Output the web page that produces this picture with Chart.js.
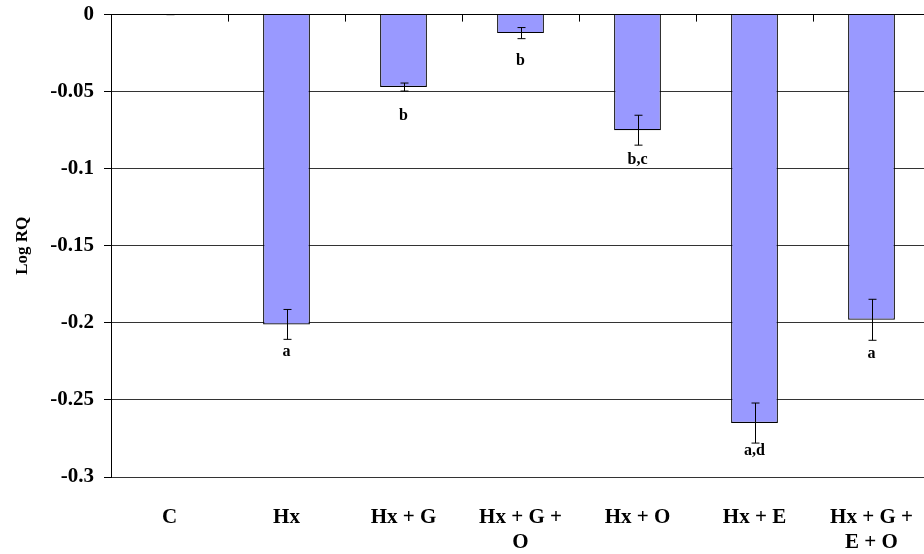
<!DOCTYPE html>
<html>
<head>
<meta charset="utf-8">
<script src="https://cdn.jsdelivr.net/npm/chart.js@4"></script>
<style>
  html, body { margin: 0; padding: 0; background: #fff; overflow: hidden; }
  #wrap { width: 940px; height: 562px; margin-top: -8px; }
</style>
</head>
<body>
<div id="wrap"><canvas id="chart"></canvas></div>
<script>
// ── Data ─────────────────────────────────────────────────────
const groups    = ['C', 'Hx', 'Hx + G', ['Hx + G +', 'O'], 'Hx + O', 'Hx + E', ['Hx + G +', 'E + O']];
const logRQ     = [0, -0.201, -0.047, -0.012, -0.075, -0.265, -0.198];
const errSE     = [0, 0.0097, 0.0026, 0.0036, 0.0097, 0.013, 0.0133];
const sigLetter = ['', 'a', 'b', 'b', 'b,c', 'a,d', 'a'];
const sigAt     = [0, -0.219, -0.0655, -0.030, -0.094, -0.283, -0.220];
const yTicks    = [0, -0.05, -0.1, -0.15, -0.2, -0.25, -0.3];

const FONT = '"Liberation Serif", "Times New Roman", serif';

// error bars + letters + the little ticks on the zero line
const extras = {
  id: 'extras',
  afterDatasetsDraw(chart) {
    const { ctx, scales: { x, y } } = chart;
    const meta = chart.getDatasetMeta(0);
    ctx.save();
    ctx.strokeStyle = '#000';
    ctx.lineWidth = 1;

    // category ticks along the 0 line
    const zy = y.getPixelForValue(0);
    const step = (x.right - x.left) / groups.length;
    for (let i = 1; i < groups.length; i++) {
      const px = Math.round(x.left + i * step) + 0.5;
      ctx.beginPath();
      ctx.moveTo(px, zy);
      ctx.lineTo(px, zy + 7);
      ctx.stroke();
    }

    meta.data.forEach((bar, i) => {
      const cx = Math.round(bar.x) + 0.5;
      const top = y.getPixelForValue(logRQ[i] + errSE[i]);
      const bot = y.getPixelForValue(logRQ[i] - errSE[i]);
      ctx.beginPath();
      ctx.moveTo(cx, top); ctx.lineTo(cx, bot);
      ctx.moveTo(cx - 4, top); ctx.lineTo(cx + 4, top);
      ctx.moveTo(cx - 4, bot); ctx.lineTo(cx + 4, bot);
      ctx.stroke();

      if (sigLetter[i]) {
        ctx.fillStyle = '#000';
        ctx.font = 'bold 16px ' + FONT;
        ctx.textAlign = 'center';
        ctx.textBaseline = 'middle';
        ctx.fillText(sigLetter[i], bar.x, y.getPixelForValue(sigAt[i]));
      }
    });
    ctx.restore();
  }
};

new Chart(document.getElementById('chart'), {
  type: 'bar',
  data: {
    labels: groups,
    datasets: [{
      data: logRQ,
      backgroundColor: '#9999ff',
      borderColor: '#000',
      borderWidth: 1.2,
      barPercentage: 0.4,
      categoryPercentage: 1
    }]
  },
  options: {
    responsive: true,
    maintainAspectRatio: false,
    animation: false,
    layout: { padding: { top: 6, right: 10, left: 0, bottom: 0 } },
    plugins: { legend: { display: false }, tooltip: { enabled: false } },
    scales: {
      x: {
        grid: { display: false },
        border: { display: true, color: '#333' },
        ticks: {
          color: '#000',
          padding: 20,
          maxRotation: 0,
          autoSkip: false,
          font: { family: FONT, size: 21, weight: 'bold', lineHeight: 1.2 }
        },
        afterFit: s => { s.height = 77; }
      },
      y: {
        min: -0.3,
        max: 0,
        afterBuildTicks: s => { s.ticks = yTicks.map(v => ({ value: v })); },
        grid: {
          color: ctx => ctx.tick && ctx.tick.value === 0 ? '#000' : '#333',
          tickLength: 7,
          tickColor: '#000'
        },
        border: { display: true, color: '#000' },
        ticks: {
          color: '#000',
          padding: 10,
          font: { family: FONT, size: 21, weight: 'bold' },
          callback: v => String(+v.toFixed(2))
        },
        title: {
          display: true,
          text: 'Log RQ',
          color: '#000',
          padding: { top: 12, bottom: 0 },
          font: { family: FONT, size: 17, weight: 'bold' }
        },
        afterFit: s => { s.width = 111; }
      }
    }
  },
  plugins: [extras]
});
</script>
</body>
</html>
